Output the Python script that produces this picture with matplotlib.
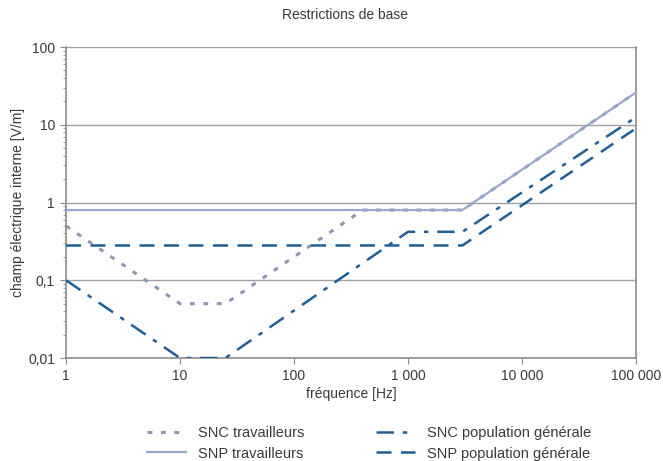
import matplotlib.pyplot as plt
from matplotlib.ticker import FixedLocator, LogLocator, NullFormatter

plt.rcParams['font.family'] = ['Liberation Sans', 'DejaVu Sans']

# points de rupture des courbes (fréquence en Hz, champ en V/m)
f_snc_trav = [1, 10, 25, 400, 3000, 100000]
e_snc_trav = [0.5, 0.05, 0.05, 0.8, 0.8, 26]
f_snp_trav = [1, 3000, 100000]
e_snp_trav = [0.8, 0.8, 26]
f_snc_pop = [1, 10, 25, 1000, 3000, 100000]
e_snc_pop = [0.1, 0.01, 0.01, 0.42, 0.42, 12.5]
f_snp_pop = [1, 3000, 100000]
e_snp_pop = [0.28, 0.28, 9]

xticks = [1, 10, 100, 1000, 10000, 100000]
xlabels = ['1', '10', '100', '1 000', '10 000', '100 000']
yticks = [0.01, 0.1, 1, 10, 100]
ylabels = ['0,01', '0,1', '1', '10', '100']

c_clair = '#9aa8cc'
c_gris = '#8d99b4'
c_fonce = '#1f5e96'
c_texte = '#3a3a3a'

fig = plt.figure(figsize=(6.63, 4.61), dpi=100)
ax = fig.add_axes([66 / 663, 1 - 358 / 461, 570 / 663, 311 / 461])

for y in [0.1, 1, 10, 100]:
    ax.axhline(y, color='#a0a0a0', lw=1.0, zorder=1)

ax.plot(f_snc_trav, e_snc_trav, color=c_gris, lw=2.2, dashes=(1.6, 2.8),
        label='SNC travailleurs', zorder=3)
ax.plot(f_snp_trav, e_snp_trav, color=c_clair, lw=1.6,
        label='SNP travailleurs', zorder=3)
ax.plot(f_snc_pop, e_snc_pop, color=c_fonce, lw=1.8, dashes=(7, 3.5, 1.8, 3.5),
        label='SNC population générale', zorder=4)
ax.plot(f_snp_pop, e_snp_pop, color=c_fonce, lw=1.8, dashes=(6, 3.8),
        label='SNP population générale', zorder=4)

ax.set_xscale('log')
ax.set_yscale('log')
ax.set_xlim(1, 100000)
ax.set_ylim(0.01, 100)
ax.set_xticks(xticks)
ax.set_xticklabels(xlabels)
ax.xaxis.set_minor_locator(FixedLocator([]))
ax.set_yticks(yticks)
ax.set_yticklabels(ylabels)
ax.yaxis.set_minor_locator(LogLocator(base=10, subs=range(2, 10)))
ax.yaxis.set_minor_formatter(NullFormatter())

for s in ['left', 'bottom', 'right']:
    ax.spines[s].set_color('#8c8c8c')
    ax.spines[s].set_linewidth(1.2)
ax.spines['top'].set_visible(False)

ax.tick_params(axis='both', which='major', length=4, color='#8c8c8c',
               labelsize=10, labelcolor=c_texte, pad=4)
ax.tick_params(axis='y', which='minor', length=2.5, color='#8c8c8c')

ax.set_xlabel('fréquence [Hz]', fontsize=10, color=c_texte, labelpad=3)
ax.set_ylabel('champ électrique interne [V/m]', fontsize=10, color=c_texte, labelpad=2)
fig.text(0.52, 1 - 15 / 461, 'Restrictions de base', ha='center', va='center',
         fontsize=10, color=c_texte)

fig.legend(loc='upper left', bbox_to_anchor=(147 / 663, 1 - 426 / 461), ncol=2,
           frameon=False, fontsize=10.5, handlelength=2.7, handletextpad=0.8,
           columnspacing=4.9, labelspacing=0.45, borderpad=0, borderaxespad=0,
           labelcolor=c_texte)

fig.savefig('out.png', dpi=100)
